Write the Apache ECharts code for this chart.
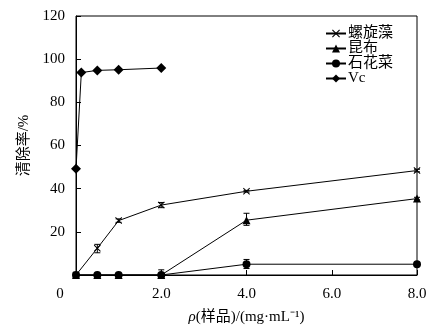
<!DOCTYPE html>
<html><head><meta charset="utf-8">
<script src="https://cdn.jsdelivr.net/npm/echarts@6/dist/echarts.min.js"></script>
<style>html,body{margin:0;padding:0;background:#fff}#c{width:434px;height:333px}</style>
</head><body><div id="c"></div>
<script>
var xTicks = [0, 2, 4, 6, 8];
var yTicks = [0, 20, 40, 60, 80, 100, 120];
var seriesNames = ['螺旋藻', '昆布', '石花菜', 'Vc'];
var xSpirulina = [0, 0.5, 1.0, 2.0, 4.0, 8.0];
var ySpirulina = [0, 12.4, 25.2, 32.4, 38.8, 48.4];
var xKelp = [0, 0.5, 1.0, 2.0, 4.0, 8.0];
var yKelp = [0, 0, 0, 0, 25.4, 35.4];
var xGelidium = [0, 0.5, 1.0, 2.0, 4.0, 8.0];
var yGelidium = [0, 0, 0, 0, 5.0, 5.0];
var xVc = [0, 0.125, 0.5, 1.0, 2.0];
var yVc = [49.2, 93.8, 94.8, 95.1, 95.9];
// error bars: [x, low, high]
var errSpirulina = [[0.5, 10.3, 14.2], [1.0, 24.4, 26.0], [2.0, 31.2, 33.6], [4.0, 38.4, 39.2], [8.0, 47.8, 49.0]];
var errKelp = [[2.0, 0, 2.4], [4.0, 23.0, 28.6], [8.0, 34.8, 36.0]];
var errGelidium = [[4.0, 3.0, 7.2]];

function pairs(xs, ys) { return xs.map(function (x, i) { return [x, ys[i]]; }); }

var crossPath = 'path://M0,1L1,0L5,4L9,0L10,1L6,5L10,9L9,10L5,6L1,10L0,9L4,5Z';
var serif = '"Liberation Serif","Noto Sans CJK SC",serif';

function errSeries(data) {
  return {
    type: 'custom', silent: true, z: 3,
    renderItem: function (params, api) {
      var x = api.value(0);
      var lo = api.coord([x, api.value(1)]);
      var hi = api.coord([x, api.value(2)]);
      var w = 3;
      var st = { stroke: '#000', lineWidth: 1 };
      return { type: 'group', children: [
        { type: 'line', shape: { x1: lo[0], y1: lo[1], x2: hi[0], y2: hi[1] }, style: st },
        { type: 'line', shape: { x1: lo[0] - w, y1: lo[1], x2: lo[0] + w, y2: lo[1] }, style: st },
        { type: 'line', shape: { x1: hi[0] - w, y1: hi[1], x2: hi[0] + w, y2: hi[1] }, style: st }
      ]};
    },
    data: data
  };
}

function lineSeries(name, data, symbol, size) {
  return {
    name: name, type: 'line', data: data, symbol: symbol, symbolSize: size,
    showAllSymbol: true, z: 4,
    lineStyle: { color: '#000', width: 1 },
    itemStyle: { color: '#000' }
  };
}

var chart = echarts.init(document.getElementById('c'));
chart.setOption({
  animation: false,
  backgroundColor: '#fff',
  grid: { left: 76, top: 16, right: 17, bottom: 58, show: true, borderColor: '#000', borderWidth: 1 },
  legend: {
    orient: 'vertical', left: 325, top: 26, padding: 0, itemWidth: 20, itemHeight: 10, itemGap: 0,
    data: seriesNames,
    textStyle: { fontFamily: serif, fontSize: 15, lineHeight: 14.7, color: '#000', padding: [0, 0, 0, -3] }
  },
  xAxis: {
    type: 'value', min: xTicks[0], max: xTicks[xTicks.length - 1], interval: 2,
    splitLine: { show: false },
    axisLine: { lineStyle: { color: '#000', width: 1 } },
    axisTick: { inside: true, length: 5, lineStyle: { color: '#000' } },
    axisLabel: {
      margin: 12, color: '#000', fontFamily: serif, fontSize: 15,
      formatter: function (v) { return v === 0 ? '{o|0}' : v.toFixed(1); },
      rich: { o: { fontFamily: serif, fontSize: 15, color: '#000', padding: [0, 32, 0, 0] } }
    },
    name: '{i|ρ}(样品)/(mg·mL⁻¹)', nameLocation: 'middle', nameGap: 35,
    nameTextStyle: {
      fontFamily: serif, fontSize: 15, color: '#000',
      rich: { i: { fontFamily: serif, fontStyle: 'italic', fontSize: 15, color: '#000' } }
    }
  },
  yAxis: {
    type: 'value', min: yTicks[0], max: yTicks[yTicks.length - 1], interval: 20,
    splitLine: { show: false },
    axisLine: { show: true, lineStyle: { color: '#000', width: 1 } },
    axisTick: { show: true, inside: true, length: 5, lineStyle: { color: '#000' } },
    axisLabel: {
      margin: 11, color: '#000', fontFamily: serif, fontSize: 15,
      formatter: function (v) { return v === 0 ? '' : String(v); }
    },
    name: '清除率/%', nameLocation: 'middle', nameGap: 36,
    nameTextStyle: { fontFamily: serif, fontSize: 15, color: '#000' }
  },
  series: [
    lineSeries(seriesNames[0], pairs(xSpirulina, ySpirulina), crossPath, 7),
    lineSeries(seriesNames[1], pairs(xKelp, yKelp), 'triangle', 8),
    lineSeries(seriesNames[2], pairs(xGelidium, yGelidium), 'circle', 8),
    lineSeries(seriesNames[3], pairs(xVc, yVc), 'diamond', 10),
    errSeries(errSpirulina),
    errSeries(errKelp),
    errSeries(errGelidium)
  ]
});
</script></body></html>
